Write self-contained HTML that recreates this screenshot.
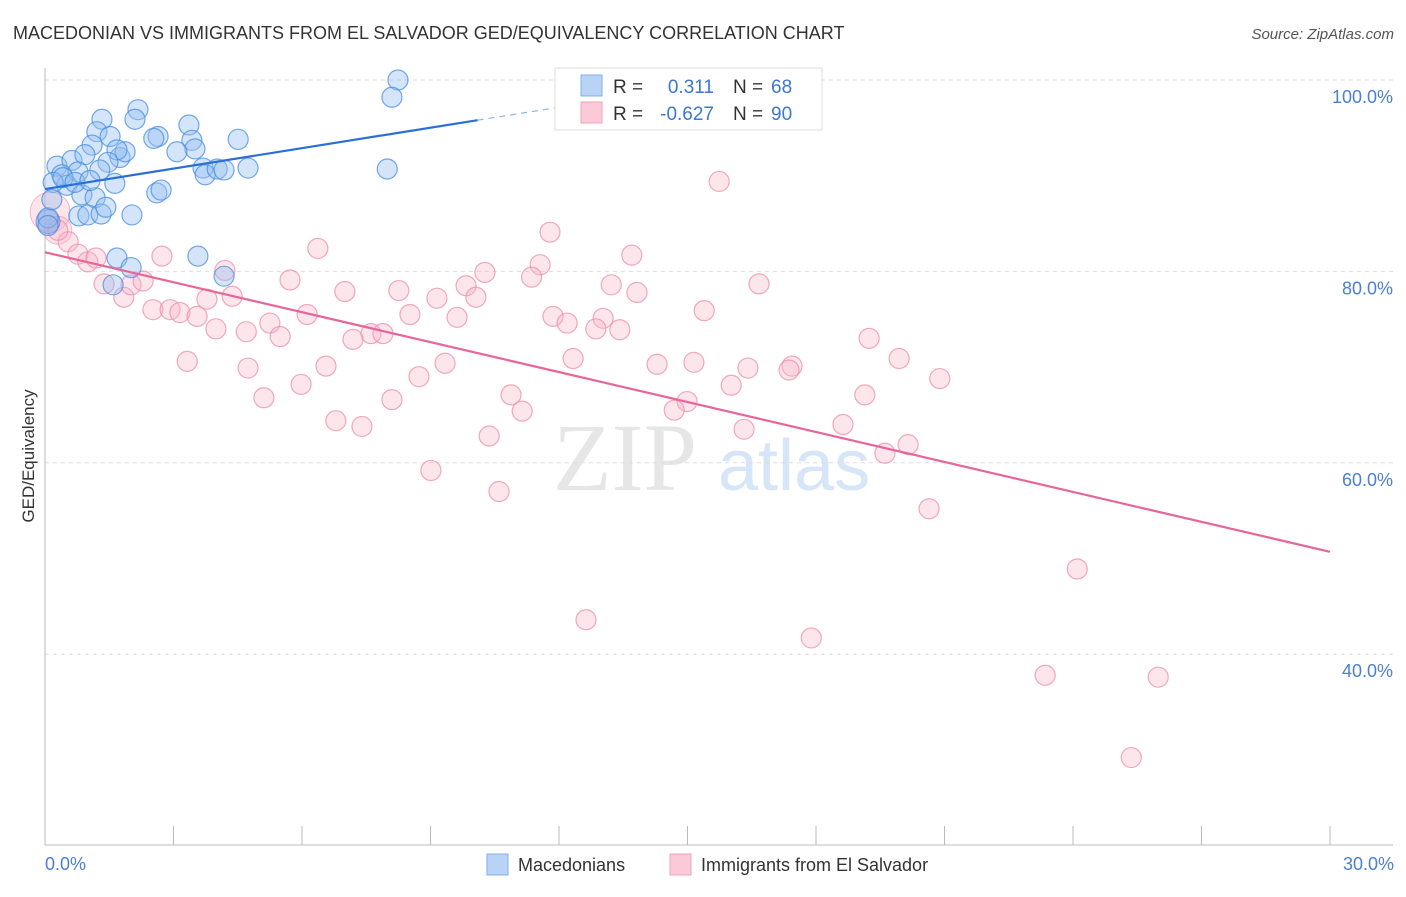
<!DOCTYPE html>
<html><head><meta charset="utf-8"><style>
body{margin:0;background:#fff;font-family:"Liberation Sans",sans-serif}
</style></head><body>
<svg id="chart" width="1406" height="892" xmlns="http://www.w3.org/2000/svg" font-family="Liberation Sans, sans-serif">
<text x="13" y="39" font-size="18" fill="#333">MACEDONIAN VS IMMIGRANTS FROM EL SALVADOR GED/EQUIVALENCY CORRELATION CHART</text>
<text x="1394" y="39" font-size="15" fill="#555" text-anchor="end" font-style="italic">Source: ZipAtlas.com</text>
<g>
<text x="553" y="490" font-size="96" fill="#e6e6e6" font-family="Liberation Serif, serif">ZIP</text>
<text x="718" y="490" font-size="72" fill="#d6e5f7">atlas</text>
</g>
<g id="grid"></g>
<g id="axes"></g>
<g id="pts"></g>
<g id="lines"></g>
<text transform="translate(34,456) rotate(-90)" font-size="17" fill="#333" text-anchor="middle">GED/Equivalency</text>
<text x="45" y="870" font-size="18" fill="#4a7fd4">0.0%</text>
<text x="1394" y="870" font-size="18" fill="#4a7fd4" text-anchor="end">30.0%</text>
<g>
<rect x="555" y="68" width="267" height="62" fill="#fff" stroke="#ddd"/>
<rect x="581" y="75" width="21" height="21" fill="#b9d3f7" stroke="#7fb0ee"/>
<rect x="581" y="102" width="21" height="21" fill="#fbc9d7" stroke="#f2a3bb"/>
<text x="613" y="93" font-size="19" fill="#333">R =</text>
<text x="714" y="93" font-size="19" fill="#3a78d4" text-anchor="end">0.311</text>
<text x="733" y="93" font-size="19" fill="#333">N =</text>
<text x="771" y="93" font-size="19" fill="#3a78d4">68</text>
<text x="613" y="120" font-size="19" fill="#333">R =</text>
<text x="714" y="120" font-size="19" fill="#3a78d4" text-anchor="end">-0.627</text>
<text x="733" y="120" font-size="19" fill="#333">N =</text>
<text x="771" y="120" font-size="19" fill="#3a78d4">90</text>
</g>
<g>
<rect x="487" y="854" width="21" height="21" fill="#b9d3f7" stroke="#7fb0ee"/>
<text x="518" y="871" font-size="18" fill="#333">Macedonians</text>
<rect x="670" y="854" width="21" height="21" fill="#fbc9d7" stroke="#f2a3bb"/>
<text x="701" y="871" font-size="18" fill="#333">Immigrants from El Salvador</text>
</g>
</svg>
<script>
const yTicks=[100,80,60,40];
const xTickVals=[3,6,9,12,15,18,21,24,27,30];
const blueX=[8.24,8.10,7.99,2.17,2.10,1.33,2.64,2.54,3.36,3.43,3.50,4.51,3.08,1.21,1.52,1.10,1.75,1.87,1.68,1.47,3.69,3.74,4.02,4.18,4.74,0.28,0.63,0.93,0.39,0.77,1.28,1.63,0.51,0.19,0.86,1.17,2.61,2.71,0.79,1.00,1.31,1.42,2.03,0.07,0.07,0.16,1.68,2.01,3.57,4.18,1.59,0.42,0.70,1.05];
const blueY=[100,98.2,90.7,96.9,95.9,95.9,94.1,93.9,95.3,93.7,92.8,93.8,92.5,94.6,94.1,93.2,91.9,92.5,92.7,91.4,90.8,90.1,90.7,90.6,90.8,91.0,91.6,92.2,90.1,90.4,90.6,89.2,89.0,89.3,88.0,87.7,88.2,88.5,85.8,85.9,86.0,86.7,85.9,85.6,84.8,87.5,81.4,80.4,81.6,79.5,78.6,89.8,89.3,89.5];
const pinkX=[15.74,11.79,13.70,6.37,2.73,11.56,10.27,11.36,5.72,4.20,16.67,13.22,9.83,13.82,8.26,7.00,9.15,10.06,4.37,3.78,1.84,1.38,2.01,2.29,2.52,2.92,3.15,3.55,6.12,8.52,9.62,11.86,12.19,13.03,15.39,5.25,3.99,4.70,5.49,7.61,7.89,7.19,12.86,13.42,19.24,19.94,12.33,15.15,14.29,16.41,17.44,17.37,3.32,4.74,6.56,9.34,8.73,20.89,5.98,16.02,5.11,8.10,10.88,11.14,14.99,14.69,19.14,6.79,7.40,16.32,18.63,10.37,20.15,19.61,9.01,10.60,20.64,24.10,12.63,17.89,23.35,25.99,25.36,0.54,0.77,1.00,1.19,0.30];
const pinkY=[89.4,84.1,81.7,82.4,81.6,80.7,79.9,79.4,79.1,80.1,78.7,78.6,78.5,77.8,78.0,77.9,77.2,77.3,77.4,77.1,77.3,78.7,78.6,79.0,76.0,76.0,75.7,75.3,75.5,75.5,75.2,75.3,74.6,75.1,75.9,74.6,74.0,73.7,73.2,73.5,73.5,72.9,74.0,73.9,73.0,70.9,70.9,70.5,70.3,69.9,70.1,69.7,70.6,69.9,70.1,70.4,69.0,68.8,68.2,68.1,66.8,66.6,67.1,65.4,66.4,65.5,67.1,64.4,63.8,63.5,64.0,62.8,61.9,61.0,59.2,57.0,55.2,48.9,43.6,41.7,37.8,37.6,29.2,83.1,81.8,81.0,81.4,84.3];
const blueFit=[88.6,95.8];
const pinkFit=[82.0,50.7];
const X=v=>45+v/30*1285;
const Y=v=>80+(100-v)*9.57;
const NS="http://www.w3.org/2000/svg";
function mk(t,a,p){const e=document.createElementNS(NS,t);for(const k in a)e.setAttribute(k,a[k]);p.appendChild(e);return e;}
const grid=document.getElementById('grid'),axes=document.getElementById('axes'),pts=document.getElementById('pts'),lines=document.getElementById('lines');
yTicks.forEach(v=>{
 const l=mk('line',{x1:45,x2:1393,y1:Y(v),y2:Y(v),stroke:'#ddd','stroke-dasharray':'4,4'},grid);
 
 
 const t=mk('text',{x:1393,y:Y(v)+23,'font-size':18,fill:'#4a7fd4','text-anchor':'end'},grid);
 t.textContent=v.toFixed(1)+'%';
 
 
});
const ax=mk('line',{x1:45,x2:45,y1:68,y2:845,stroke:'#bbb'},axes);


const bx=mk('line',{x1:45,x2:1393,y1:845,y2:845,stroke:'#bbb'},axes);


xTickVals.forEach(v=>{
 const t=mk('line',{x1:X(v),x2:X(v),y1:826,y2:845,stroke:'#bbb'},axes);
 
 
});
const bp=mk('circle',{cx:X(0.12),cy:Y(86.2),r:20,fill:'rgba(248,180,200,0.35)',stroke:'rgba(236,140,170,0.6)'},pts);


const bp2=mk('circle',{cx:X(0.3),cy:Y(84.3),r:14,fill:'rgba(248,180,200,0.35)',stroke:'rgba(236,140,170,0.6)'},pts);


pinkX.forEach((x,i)=>{
 const c=mk('circle',{cx:X(x),cy:Y(pinkY[i]),r:10,fill:'rgba(248,180,200,0.35)',stroke:'rgba(236,140,170,0.75)','stroke-width':1.2},pts);
 
 
});
const bb=mk('circle',{cx:X(0.07),cy:Y(85.2),r:12,fill:'rgba(120,150,220,0.45)',stroke:'rgba(80,130,220,0.7)'},pts);


blueX.forEach((x,i)=>{
 const c=mk('circle',{cx:X(x),cy:Y(blueY[i]),r:10,fill:'rgba(147,190,240,0.4)',stroke:'rgba(70,140,225,0.75)','stroke-width':1.2},pts);
 
 
});
const bs=(blueFit[1]-blueFit[0])/10.1;
const l1=mk('line',{x1:X(0),y1:Y(blueFit[0]),x2:X(10.1),y2:Y(blueFit[1]),stroke:'#2b6fd6','stroke-width':2.2},lines);


const l2=mk('line',{x1:X(10.1),y1:Y(blueFit[1]),x2:X(12.8),y2:Y(blueFit[0]+bs*12.8),stroke:'#8fb6ea','stroke-width':1.2,'stroke-dasharray':'6,5'},lines);


const l3=mk('line',{x1:X(0),y1:Y(pinkFit[0]),x2:X(30),y2:Y(pinkFit[1]),stroke:'#e8659a','stroke-width':2.2},lines);


</script>
</body></html>
